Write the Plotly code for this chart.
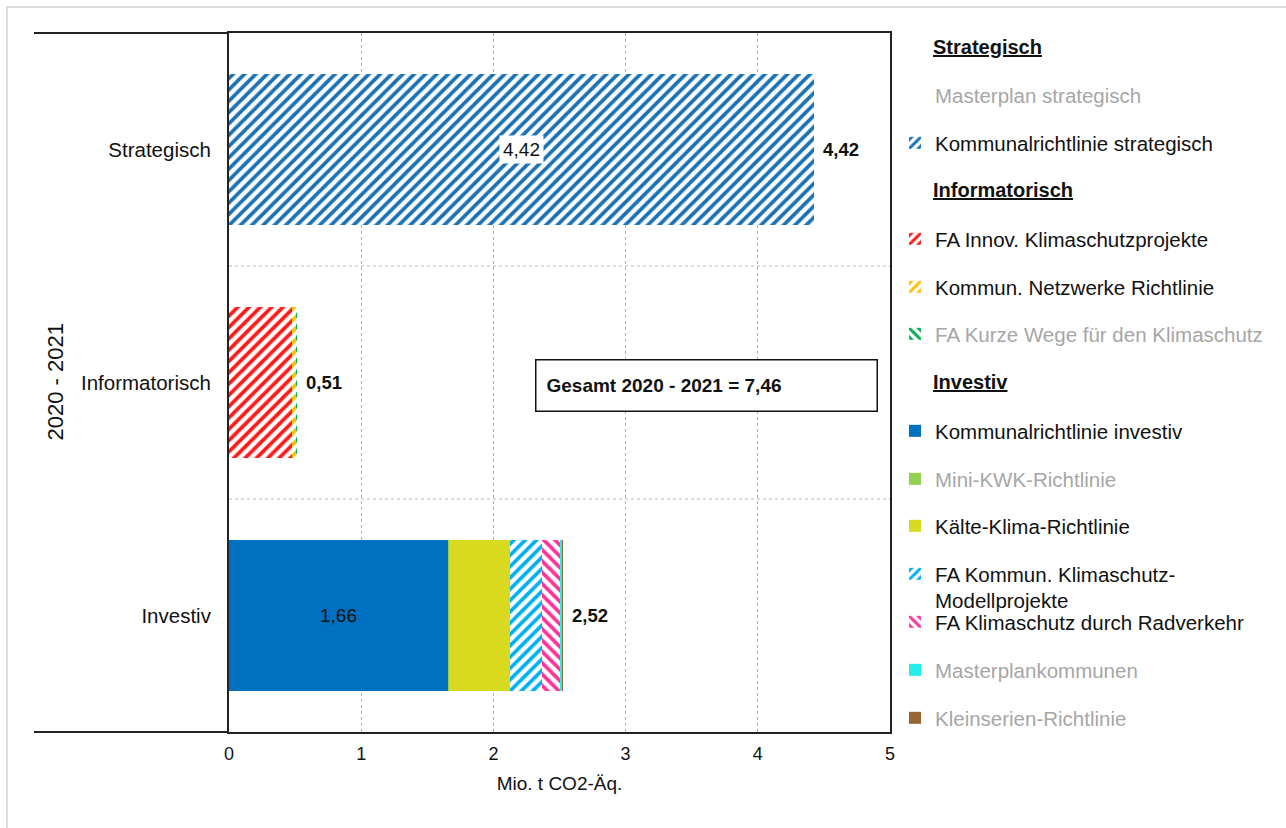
import plotly.graph_objects as go

# Categories (top to bottom)
categories = ["Strategisch", "Informatorisch", "Investiv"]

# Programme series: name, category, value (Mio. t CO2-Äq.)
series_names = [
    "Masterplan strategisch",
    "Kommunalrichtlinie strategisch",
    "FA Innov. Klimaschutzprojekte",
    "Kommun. Netzwerke Richtlinie",
    "FA Kurze Wege für den Klimaschutz",
    "Kommunalrichtlinie investiv",
    "Mini-KWK-Richtlinie",
    "Kälte-Klima-Richtlinie",
    "FA Kommun. Klimaschutz-<br>Modellprojekte",
    "FA Klimaschutz durch Radverkehr",
    "Masterplankommunen",
    "Kleinserien-Richtlinie",
]
series_category = [
    "Strategisch", "Strategisch",
    "Informatorisch", "Informatorisch", "Informatorisch",
    "Investiv", "Investiv", "Investiv", "Investiv", "Investiv", "Investiv", "Investiv",
]
series_values = [
    0.0, 4.423,
    0.477, 0.03, 0.005,
    1.66, 0.003, 0.465, 0.24, 0.14, 0.012, 0.003,
]

# Styling per series
series_colors = [
    "rgba(255,255,255,0)", "#1a72b4",
    "#ff1a1a", "#ffc000", "#00b050",
    "#0070c0", "#92d050", "#d9d91f", "#00b0f0", "#ff3399", "#22eeee", "#996633",
]
series_pattern = ["", "/", "/", "/", "\\", "", "", "", "/", "\\", "", ""]
series_grey = [True, False, False, False, True, False, True, False, False, False, True, True]

# Legend layout (vertical pixel centre of each entry)
legend_rows_px = [95, 143, 239, 287, 334, 431, 479, 526, 568, 622, 670, 718]
headings = ["Strategisch", "Informatorisch", "Investiv"]
heading_rows_px = [47, 190, 382]

W, H = 1286, 828
L, R, T, B = 229, 890, 33, 732
PW, PH = R - L, B - T


def px_x(px):
    return (px - L) / PW


def px_y(py):
    return (B - py) / PH


FONT = "Liberation Sans, Arial, sans-serif"


def fmt(v):
    return f"{v:.2f}".replace(".", ",")


fig = go.Figure()
legend_layouts = {}
for i, (name, cat, val, col, pat, grey) in enumerate(
    zip(series_names, series_category, series_values, series_colors, series_pattern, series_grey)
):
    lg = "legend" if i == 0 else f"legend{i + 1}"
    marker = dict(color=col, line=dict(width=0))
    if pat:
        marker["pattern"] = dict(shape=pat, fgcolor=col, bgcolor="white",
                                 size=8, solidity=0.47, fillmode="replace")
    fig.add_trace(go.Bar(
        y=[cat], x=[val], name=name, orientation="h", showlegend=True,
        marker=marker, legend=lg, hoverinfo="name+x",
    ))
    two_line = "<br>" in name
    legend_layouts[lg] = dict(
        x=px_x(895), xanchor="left",
        y=px_y(legend_rows_px[i] - (14 if two_line else 0)),
        yanchor="top" if two_line else "middle",
        bgcolor="rgba(0,0,0,0)", borderwidth=0,
        valign="top" if two_line else "middle",
        font=dict(family=FONT, size=20.5, color="#a6a6a6" if grey else "#111111"),
    )

# Totals per category
totals = {c: 0.0 for c in categories}
for cat, val in zip(series_category, series_values):
    totals[cat] += val
grand_total = sum(totals.values())

annotations = []
for c in categories:
    annotations.append(dict(
        x=totals[c], y=c, xref="x", yref="y", text=f"<b>{fmt(totals[c])}</b>",
        showarrow=False, xanchor="left", xshift=7,
        font=dict(family=FONT, size=18.5, color="#111111"),
    ))

# Segment value labels
annotations.append(dict(
    x=series_values[1] / 2, y="Strategisch", xref="x", yref="y",
    text=fmt(series_values[1]), showarrow=False, bgcolor="white", borderpad=3,
    font=dict(family=FONT, size=19, color="#111111"),
))
annotations.append(dict(
    x=series_values[5] / 2, y="Investiv", xref="x", yref="y",
    text=fmt(series_values[5]), showarrow=False,
    font=dict(family=FONT, size=19, color="#111111"),
))

# Overall total box
annotations.append(dict(
    x=px_x(535), y=px_y(385), xref="paper", yref="paper", xanchor="left", yanchor="middle",
    text=f"<b>Gesamt 2020 - 2021 = {fmt(grand_total)}</b>", showarrow=False,
    align="left", width=320, height=30, borderpad=10, bordercolor="#111111",
    borderwidth=1.5, bgcolor="white",
    font=dict(family=FONT, size=19, color="#111111"),
))

# Period label on the left
annotations.append(dict(
    x=px_x(40), y=px_y(382), xref="paper", yref="paper", text="2020 - 2021",
    textangle=-90, showarrow=False, font=dict(family=FONT, size=22, color="#111111"),
))

# Legend group headings
for h, py in zip(headings, heading_rows_px):
    annotations.append(dict(
        x=px_x(931), y=px_y(py), xref="paper", yref="paper", xanchor="left", yanchor="middle",
        text=f"<b><u>{h}</u></b>", showarrow=False,
        font=dict(family=FONT, size=20, color="#111111"),
    ))

shapes = [
    # category separators
    dict(type="line", xref="x", yref="y", x0=0, x1=5, y0=0.5, y1=0.5,
         line=dict(color="#b8b8b8", width=1, dash="dot"), layer="below"),
    dict(type="line", xref="x", yref="y", x0=0, x1=5, y0=1.5, y1=1.5,
         line=dict(color="#b8b8b8", width=1, dash="dot"), layer="below"),
    # group frame extending to the left
    dict(type="line", xref="paper", yref="paper", x0=px_x(34), x1=0, y0=1, y1=1,
         line=dict(color="#222222", width=2)),
    dict(type="line", xref="paper", yref="paper", x0=px_x(34), x1=0, y0=0, y1=0,
         line=dict(color="#222222", width=2)),
    # outer chart border
    dict(type="rect", xref="paper", yref="paper", x0=px_x(7), x1=px_x(1320),
         y0=px_y(860), y1=px_y(7), line=dict(color="#d0d0d0", width=1.5), layer="below"),
]

fig.update_layout(
    width=W, height=H,
    margin=dict(l=L, r=W - R, t=T, b=H - B),
    barmode="stack", bargap=0.356,
    separators=",.",
    showlegend=True,
    paper_bgcolor="white", plot_bgcolor="white",
    font=dict(family=FONT, size=18, color="#111111"),
    annotations=annotations, shapes=shapes,
    **legend_layouts,
)
fig.update_xaxes(
    range=[0, 5], dtick=1, tick0=0,
    showgrid=True, gridcolor="#b0b0b0", griddash="dot", gridwidth=1,
    showline=True, linecolor="#222222", linewidth=2, mirror=True,
    ticks="", zeroline=False, ticklabelstandoff=4,
    tickfont=dict(family=FONT, size=18, color="#111111"),
    title=dict(text="Mio. t CO2-Äq.", font=dict(family=FONT, size=19, color="#111111"), standoff=14),
)
fig.update_yaxes(
    categoryorder="array", categoryarray=categories, autorange="reversed",
    showgrid=False, showline=True, linecolor="#222222", linewidth=2, mirror=True,
    ticks="", ticklabelstandoff=12,
    tickfont=dict(family=FONT, size=20.5, color="#111111"),
)

fig.write_html("out.html")
